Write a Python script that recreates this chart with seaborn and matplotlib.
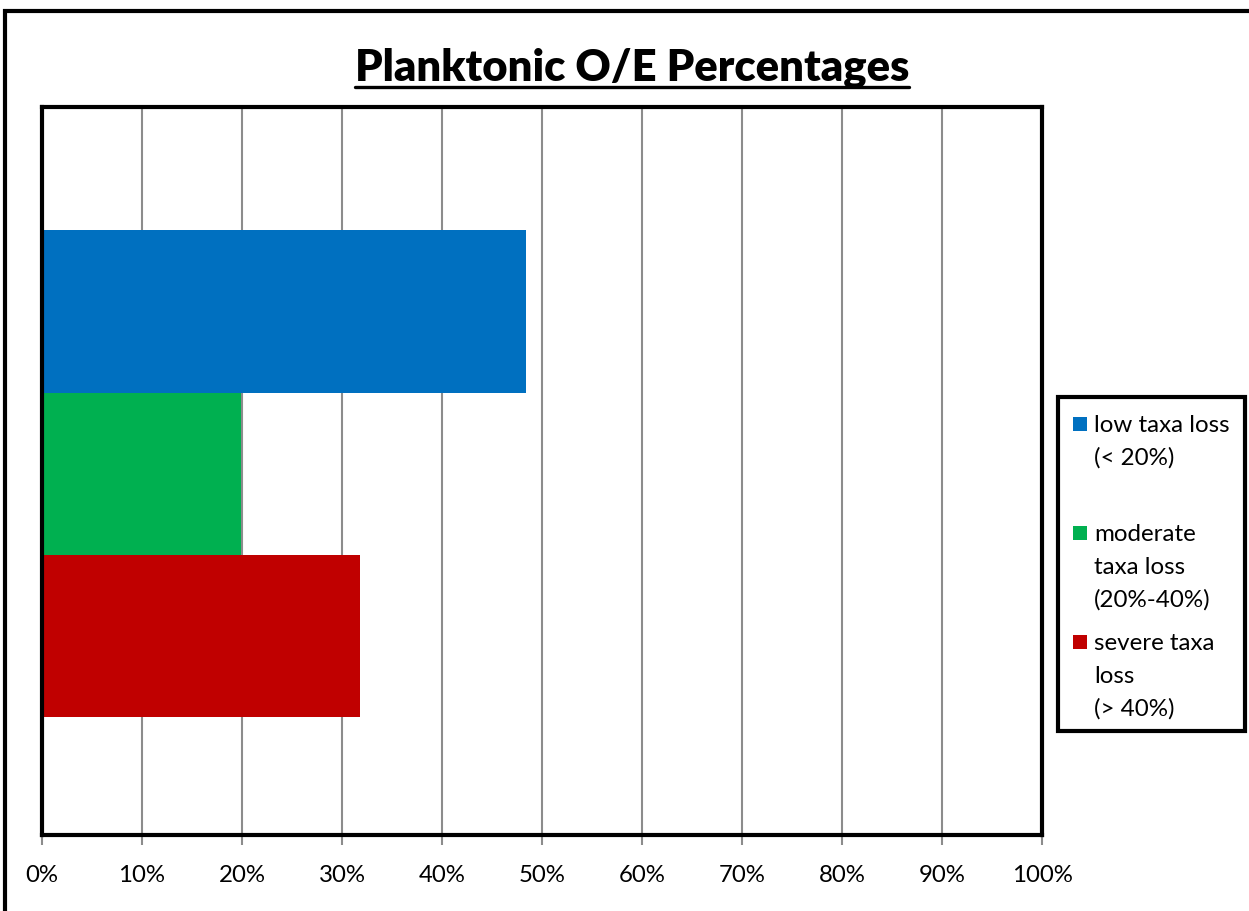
import matplotlib
matplotlib.use("Agg")
import matplotlib.pyplot as plt
import seaborn as sns
import pandas as pd
from matplotlib.patches import Rectangle
from matplotlib.lines import Line2D
from matplotlib.ticker import FixedLocator, FixedFormatter

# Chart content
title = "Planktonic O/E Percentages"
categories = ["Planktonic"]
series = ["low taxa loss\n(< 20%)", "moderate\ntaxa loss\n(20%-40%)", "severe taxa\nloss\n(> 40%)"]
values = [48.4, 19.9, 31.8]
colors = ["#0070C0", "#00B050", "#C00000"]
tick_values = [0, 10, 20, 30, 40, 50, 60, 70, 80, 90, 100]
tick_labels = ["0%", "10%", "20%", "30%", "40%", "50%", "60%", "70%", "80%", "90%", "100%"]

W, H = 1249, 912


def fx(px):
    return px / W


def fy(py):
    return 1 - py / H


sns.set_theme(style="white")
plt.rcParams["font.family"] = ["Lato", "DejaVu Sans"]

df = pd.DataFrame({
    "site": categories * len(series),
    "class": series,
    "pct": values,
})

fig = plt.figure(figsize=(W / 100, H / 100), dpi=100)
fig.patch.set_facecolor("white")

ax = fig.add_axes([fx(42), fy(836), fx(1042) - fx(42), fy(108) - fy(836)])
sns.barplot(
    data=df, x="pct", y="site", hue="class", hue_order=series,
    palette=colors, orient="h", width=0.669, dodge=True,
    saturation=1, linewidth=0, legend=False, ax=ax,
)

ax.set_xlim(0, 100)
ax.set_ylim(0.496, -0.504)
ax.set_yticks([])
ax.set_xlabel("")
ax.set_ylabel("")
ax.xaxis.set_major_locator(FixedLocator(tick_values))
ax.xaxis.set_major_formatter(FixedFormatter(tick_labels))
ax.xaxis.grid(True, color="#8c8c8c", linewidth=1.5)
ax.yaxis.grid(False)
ax.set_axisbelow(True)
for side in ["left", "right", "top", "bottom"]:
    ax.spines[side].set_visible(True)
    ax.spines[side].set_color("black")
    ax.spines[side].set_linewidth(3)
ax.tick_params(axis="x", bottom=True, direction="out", length=7, width=1.5,
               color="#8c8c8c", pad=14, labelsize=17.3, labelcolor="black")

# Outer chart border (runs off the right and bottom edges)
fig.add_artist(Rectangle((fx(5), fy(1200)), fx(1400) - fx(5), fy(12) - fy(1200),
                         transform=fig.transFigure, fill=False,
                         edgecolor="black", linewidth=3, clip_on=False))

# Title with underline
t = fig.text(fx(632), fy(80), title, ha="center", va="baseline",
             fontsize=31.3, fontweight="heavy", color="black")
renderer = fig.canvas.get_renderer()
bb = t.get_window_extent(renderer=renderer)
fig.add_artist(Line2D([bb.x0 / W, bb.x1 / W], [fy(87.5), fy(87.5)],
                      transform=fig.transFigure, color="black", linewidth=2.4))

# Legend box
fig.add_artist(Rectangle((fx(1058), fy(732)), fx(1245) - fx(1058), fy(398) - fy(732),
                         transform=fig.transFigure, facecolor="white",
                         edgecolor="black", linewidth=3))
entry_baselines = [432, 541, 650]
line_pitch = 33
for label, color, base in zip(series, colors, entry_baselines):
    fig.add_artist(Rectangle((fx(1073), fy(base)), fx(1087) - fx(1073), fy(base - 14) - fy(base),
                             transform=fig.transFigure, facecolor=color,
                             edgecolor="none"))
    for i, line in enumerate(label.split("\n")):
        fig.text(fx(1094), fy(base + i * line_pitch), line, ha="left",
                 va="baseline", fontsize=17.4, color="black")

fig.savefig("out.png", dpi=100)
